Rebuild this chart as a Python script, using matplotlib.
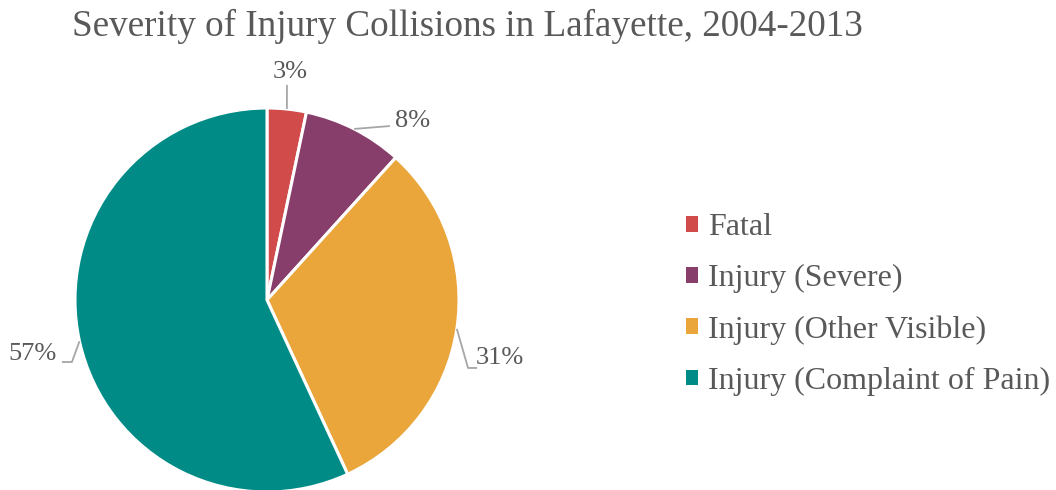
import numpy as np
import matplotlib.pyplot as plt

categories = ["Fatal", "Injury (Severe)", "Injury (Other Visible)", "Injury (Complaint of Pain)"]
shares = [3.3, 8.4, 31.4, 56.9]
colors = ["#D24B4B", "#873E6B", "#EAA53B", "#008B87"]

# label anchor (data units, radius = 1) and optional elbow points for leader lines
label_pos = [(0.12, 1.19), (0.76, 0.93), (1.21, -0.30), (-1.22, -0.28)]
leader_pts = [
    [(0.104, 1.12)],
    [(0.64, 0.906)],
    [(1.047, -0.354), (1.094, -0.354)],
    [(-1.016, -0.323), (-1.068, -0.323)],
]

plt.rcParams["font.family"] = ["Liberation Serif", "DejaVu Serif"]
text_color = "#595959"
line_color = "#A6A6A6"

W, H = 1056, 490
fig = plt.figure(figsize=(W / 100, H / 100), dpi=100)

# pie centre at (267, 300) px from top-left, radius 192 px
r_px = 192
half = 1.2 * r_px
cx, cy = 267, H - 300
ax = fig.add_axes([(cx - half) / W, (cy - half) / H, 2 * half / W, 2 * half / H])
wedges, _ = ax.pie(shares, colors=colors, startangle=90, counterclock=False,
                   wedgeprops=dict(edgecolor="white", linewidth=2.2))
ax.set_xlim(-1.2, 1.2)
ax.set_ylim(-1.2, 1.2)
ax.set_aspect("equal")
ax.axis("off")

for w, share, pos, pts in zip(wedges, shares, label_pos, leader_pts):
    mid = np.deg2rad((w.theta1 + w.theta2) / 2)
    edge = (np.cos(mid), np.sin(mid))
    xs = [edge[0]] + [p[0] for p in pts]
    ys = [edge[1]] + [p[1] for p in pts]
    ax.plot(xs, ys, color=line_color, linewidth=1.3, solid_capstyle="butt", clip_on=False)
    ax.text(pos[0], pos[1], f"{share:.0f}%", ha="center", va="center",
            fontsize=19, color=text_color, clip_on=False)

fig.text(467 / W, 1 - 26 / H, "Severity of Injury Collisions in Lafayette, 2004-2013",
         ha="center", va="center", fontsize=26.7, color=text_color)

leg = fig.legend(wedges, categories, loc="center left",
                 bbox_to_anchor=(686 / W, (H - 304.5) / H), frameon=False,
                 fontsize=23, handlelength=0.38, handleheight=0.38,
                 handletextpad=0.3, labelspacing=0.69, borderpad=0, borderaxespad=0)
for t in leg.get_texts():
    t.set_color(text_color)
for h in leg.legend_handles:
    h.set_edgecolor("none")

fig.savefig("out.png", dpi=100)
